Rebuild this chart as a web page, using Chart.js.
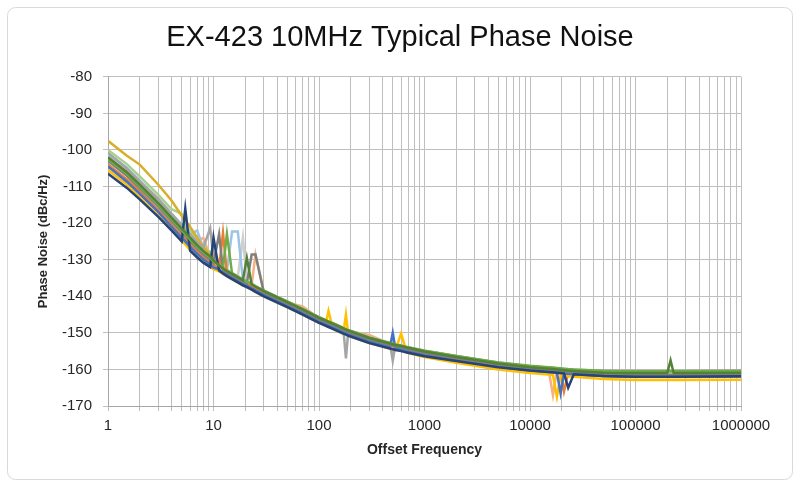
<!DOCTYPE html>
<html>
<head>
<meta charset="utf-8">
<script src="https://cdn.jsdelivr.net/npm/chart.js@4.4.1/dist/chart.umd.min.js"></script>
<style>
  body { margin: 0; background: #fff; }
  canvas { display: block; }
</style>
</head>
<body>
<canvas id="noiseChart" width="800" height="487"></canvas>
<script>
// offset frequency points (Hz), shared by every measured unit
const freqs = [1, 1.5, 2, 3, 4, 5, 5.4, 6, 7, 8,
    9.3, 10, 11.3, 12.3, 13.4, 15, 17, 19, 20.7, 23,
    25, 30, 50, 70, 100, 115, 123, 135, 170, 180,
    190, 300, 470, 500, 530, 600, 680, 1000, 2000, 5000,
    10000, 15000, 16500, 18000, 19500, 21000, 23000, 26000, 50000, 100000,
    200000, 215000, 230000, 1000000];

// phase noise per unit (dBc/Hz)
const unitDarkGreen = [-102, -106, -109.5, -114.5, -118.5, -121.5, -122.5, -124, -126, -127.6,
    -129.1, -130.2, -131.6, -132.4, -133.1, -133.9, -134.8, -135.6, -129.5, -136.8,
    -137.4, -138.6, -141.6, -143.6, -145.9, -146.6, -147, -147.5, -148.8, -149.1,
    -149.4, -151.4, -152.9, -153.1, -153.3, -153.6, -154, -155.1, -156.6, -158.4,
    -159.4, -159.8, -159.9, -160, -160.1, -160.2, -160.3, -160.4, -160.9, -161,
    -161, -157.5, -161, -160.9];
const unitGreen = [-102.5, -106.4, -110, -115, -119, -122, -123, -124.5, -126.5, -128,
    -129.5, -130.5, -131.5, -132.3, -123, -133.8, -134.7, -135.5, -136, -136.7,
    -137.3, -138.5, -141.5, -143.5, -145.8, -146.5, -146.9, -147.4, -148.7, -149,
    -149.3, -151.3, -152.8, -153, -153.2, -153.5, -153.9, -154.9, -156.3, -158.1,
    -159, -159.4, -159.5, -159.6, -159.7, -159.8, -159.9, -160, -160.4, -160.5,
    -160.5, -160.5, -160.5, -160.4];
const unitDarkBlue = [-106.5, -110.3, -113.5, -118.3, -122, -125, -116, -127.5, -129.4, -130.8,
    -132, -124, -133, -133.8, -134.5, -135.3, -136.2, -137, -137.5, -138.2,
    -138.8, -140, -143, -145, -147.3, -148, -148.4, -148.9, -150.2, -150.5,
    -150.8, -152.8, -154.3, -154.5, -154.7, -155, -155.4, -156.4, -157.7, -159.4,
    -160.3, -160.7, -160.8, -160.9, -161, -161.1, -165, -161.3, -161.8, -162,
    -162, -162, -162, -161.9];
const unitDarkGray = [-103, -107, -110.5, -115.5, -119.5, -122.5, -123.5, -125, -127, -128.5,
    -130, -131, -123, -132.8, -133.5, -134.3, -135.2, -136, -136.5, -128.6,
    -128.6, -139, -142, -144, -146.3, -147, -147.4, -147.9, -149.2, -149.5,
    -149.8, -151.8, -153.3, -153.5, -153.7, -154, -154.4, -155.5, -157, -158.8,
    -159.8, -160.2, -160.3, -160.4, -160.5, -160.6, -160.7, -160.8, -161.3, -161.5,
    -161.5, -161.5, -161.5, -161.4];
const unitBlue = [-104.5, -108.6, -112, -117, -121, -124, -125, -126.5, -128.4, -129.9,
    -131.3, -132.2, -132.6, -133.4, -134.1, -134.9, -135.8, -136.6, -137.1, -137.8,
    -138.4, -139.6, -142.6, -144.6, -146.9, -147.6, -148, -148.5, -149.8, -150.1,
    -150.4, -152.4, -153.9, -150, -154.3, -154.6, -155, -156.1, -157.5, -159.3,
    -160.3, -160.7, -160.8, -160.9, -166.5, -161.1, -161.2, -161.3, -161.8, -162,
    -162, -162, -162, -161.9];
const unitGold = [-105.5, -109.4, -113, -118, -121.8, -124.8, -125.8, -127.3, -129.2, -130.6,
    -131.8, -132.6, -133.2, -133.9, -134.5, -135.3, -136.2, -137, -137.5, -138.2,
    -138.8, -140, -143, -145, -147.3, -148, -144, -148.9, -150.2, -145,
    -150.8, -152.8, -154.3, -154.5, -154.7, -150.2, -155.4, -156.6, -158.2, -160,
    -161, -161.4, -161.5, -167.5, -161.7, -161.8, -161.9, -162, -162.6, -162.9,
    -162.9, -162.9, -162.9, -162.8];
const unitOrange = [-104, -108, -111.4, -116.5, -120.4, -123.4, -124.4, -125.9, -127.8, -129.2,
    -130.6, -131.5, -132.3, -122.7, -133.7, -134.5, -135.4, -136.2, -136.7, -137.4,
    -138, -139.2, -142.2, -144.2, -146.5, -147.2, -147.6, -148.1, -149.4, -149.7,
    -150, -152, -153.5, -153.7, -153.9, -154.2, -154.6, -155.8, -157.3, -159.1,
    -160.1, -160.5, -160.6, -160.7, -160.8, -166, -161, -161.1, -161.6, -161.8,
    -161.8, -161.8, -161.8, -161.7];
const unitGray = [-100.8, -105, -108.6, -113.4, -117.4, -120.5, -121.6, -123.1, -125.2, -126.8,
    -121.4, -129.6, -131.4, -132.3, -133, -133.8, -134.7, -135.5, -136, -136.7,
    -137.3, -138.5, -141.5, -143.5, -145.8, -146.5, -146.9, -147.4, -148.7, -157,
    -149.3, -151.3, -152.8, -157.6, -153.2, -153.5, -153.9, -154.9, -156.3, -158.1,
    -159.1, -159.5, -159.6, -159.7, -159.8, -159.9, -160, -160.1, -160.3, -160.4,
    -160.4, -160.4, -160.4, -160.3];
const unitHighGold = [-97.5, -101.5, -104, -109.5, -113.8, -118, -119.3, -121, -124, -126.5,
    -128.6, -130, -131.3, -132.2, -133, -133.9, -134.8, -135.7, -136.2, -136.9,
    -137.5, -138.8, -141.8, -143.8, -146.2, -146.9, -147.3, -147.8, -149.1, -149.4,
    -149.7, -151.7, -153.3, -153.5, -153.7, -154, -154.4, -155.6, -157.3, -159.2,
    -160.3, -160.8, -160.9, -161, -161.1, -161.2, -161.3, -161.4, -161.9, -162.1,
    -162.1, -162.1, -162.1, -162];
const unitLightGreen = [-100, -103.8, -107.2, -112.3, -116.2, -117.5, -120.6, -122.2, -124.4, -126.2,
    -128, -129.5, -131, -131.9, -132.7, -133.6, -134.5, -135.4, -135.9, -136.6,
    -137.2, -138.4, -141.4, -143.4, -145.7, -146.4, -146.8, -147.3, -148.6, -148.9,
    -149.2, -151.2, -152.7, -152.9, -153.1, -153.4, -153.8, -154.9, -156.4, -158.2,
    -159.2, -159.6, -159.7, -159.8, -159.9, -160, -160.1, -160.2, -160.7, -160.9,
    -160.9, -160.9, -160.9, -160.8];
const unitLightBlue = [-101, -104.8, -108.3, -113.5, -117.6, -120.6, -121.6, -123.2, -122, -126.8,
    -128.5, -130.2, -131.4, -132.3, -133, -122.3, -122.3, -135.5, -136, -136.7,
    -137.3, -138.5, -141.5, -143.5, -145.8, -146.5, -146.9, -147.4, -148.7, -149,
    -149.3, -151.3, -152.8, -153, -153.2, -153.5, -153.9, -155.1, -156.7, -158.5,
    -159.5, -159.9, -160, -160.1, -160.2, -160.3, -160.4, -160.5, -161, -161.2,
    -161.2, -161.2, -161.2, -161.1];
const unitSalmon = [-102, -106, -109.6, -114.4, -118.6, -121.4, -122.6, -124.1, -125, -124,
    -129.2, -130.6, -131.7, -132.5, -133.2, -134, -134.9, -135.7, -136.2, -136.9,
    -128.6, -138.7, -141.7, -142.8, -146, -146.7, -147.1, -147.6, -148.9, -149.2,
    -149.5, -150.6, -153, -153.2, -153.4, -153.7, -154.1, -155.3, -156.8, -158.6,
    -159.6, -160, -167, -160.2, -160.3, -160.4, -160.5, -160.6, -161.1, -161.3,
    -161.3, -161.3, -161.3, -161.2];
const unitLightGray = [-101.5, -105.3, -109, -114.2, -118, -121, -122.2, -123.6, -125.7, -127.2,
    -128.8, -130, -131.5, -132.2, -133, -133.8, -134.7, -124, -136, -136.7,
    -137.3, -138.5, -141.5, -143.5, -145.8, -146.5, -146.9, -147.4, -148.7, -149,
    -149.3, -151.3, -152.8, -153, -153.2, -153.5, -153.9, -155, -156.5, -158.3,
    -159.3, -159.7, -159.8, -159.9, -160, -160.1, -160.2, -160.3, -160.8, -161,
    -161, -161, -161, -160.9];

// first entry is drawn on top
const units = [unitDarkGreen, unitGreen, unitDarkBlue, unitDarkGray, unitBlue, unitGold, unitOrange,
    unitGray, unitHighGold, unitLightGreen, unitLightBlue, unitSalmon, unitLightGray];
const unitColors = ['#548235', '#70AD47', '#264478', '#7F7F7F', '#4472C4', '#FFC000', '#ED7D31',
    '#A5A5A5', '#D9AE2A', '#A9D18E', '#9DC3E6', '#F4B183', '#CFCFCF'];

// axis ticks
const xTickLabels = [1, 10, 100, 1000, 10000, 100000, 1000000];
const minorSteps = [2, 3, 4, 5, 6, 7, 8, 9];

const FONT = "'Liberation Sans', Arial, sans-serif";
const TEXT = '#262626';
const GRID = '#BFBFBF';

// white background and the light rounded frame around the whole chart
const frame = {
    id: 'frame',
    beforeDraw(chart) {
        const c = chart.ctx;
        c.save();
        c.fillStyle = '#fff';
        c.fillRect(0, 0, chart.width, chart.height);
        c.strokeStyle = '#D9D9D9';
        c.lineWidth = 1;
        c.beginPath();
        c.roundRect(7.5, 7.5, 785, 472, 8);
        c.stroke();
        c.restore();
    }
};

let datasets = units.map((vals, i) => ({
    label: 'Unit ' + (i + 1),
    data: vals.map((v, j) => ({ x: freqs[j], y: v })),
    borderColor: unitColors[i],
    borderWidth: 2.5,
    pointRadius: 0,
    fill: false,
    tension: 0
}));

new Chart(document.getElementById('noiseChart'), {
    type: 'line',
    data: { datasets: datasets },
    options: {
        responsive: false,
        animation: false,
        layout: { padding: 0 },
        scales: {
            x: {
                type: 'logarithmic',
                min: 1,
                max: 1000000,
                afterBuildTicks(scale) {
                    let t = [];
                    xTickLabels.forEach(d => {
                        t.push({ value: d });
                        if (d < 1000000) minorSteps.forEach(m => t.push({ value: d * m }));
                    });
                    scale.ticks = t;
                },
                afterFit(scale) { scale.height = 81; },
                grid: { color: GRID, tickLength: 5 },
                border: { color: '#A6A6A6' },
                ticks: {
                    autoSkip: false,
                    maxRotation: 0,
                    padding: 6,
                    color: TEXT,
                    font: { family: FONT, size: 15 },
                    callback: v => xTickLabels.includes(v) ? String(v) : ''
                },
                title: {
                    display: true,
                    text: 'Offset Frequency',
                    color: TEXT,
                    font: { family: FONT, size: 14, weight: 'bold' },
                    padding: { top: 0, bottom: 28 }
                }
            },
            y: {
                min: -170,
                max: -80,
                afterFit(scale) { scale.width = 108; },
                grid: { color: GRID, tickLength: 5 },
                border: { color: '#A6A6A6' },
                ticks: {
                    stepSize: 10,
                    padding: 11,
                    color: TEXT,
                    font: { family: FONT, size: 15 }
                },
                title: {
                    display: true,
                    text: 'Phase Noise (dBc/Hz)',
                    color: TEXT,
                    font: { family: FONT, size: 13, weight: 'bold' },
                    padding: { top: 36, bottom: 0 }
                }
            },
            // empty right-hand margin so the title stays centred on the whole frame
            yRight: {
                position: 'right',
                min: -170,
                max: -80,
                afterFit(scale) { scale.width = 59; },
                grid: { display: false, drawTicks: false },
                border: { display: false },
                ticks: { display: false }
            }
        },
        plugins: {
            legend: { display: false },
            tooltip: { enabled: false },
            title: {
                display: true,
                text: 'EX-423 10MHz Typical Phase Noise',
                color: '#111',
                font: { family: FONT, size: 29, weight: 'normal' },
                padding: { top: 21, bottom: 21 }
            }
        }
    },
    plugins: [frame]
});
</script>
</body>
</html>
